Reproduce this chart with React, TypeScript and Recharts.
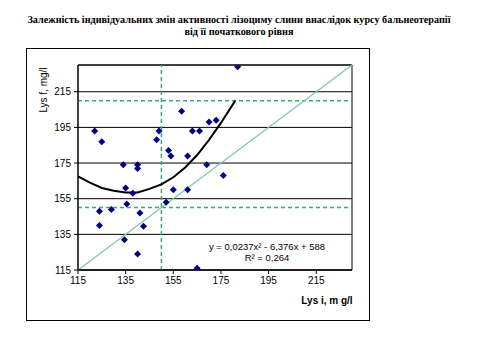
import {
    ComposedChart,
    Scatter,
    XAxis,
    YAxis,
    CartesianGrid,
    ReferenceLine,
    ReferenceArea,
} from "recharts";

// initial vs final lysozyme
const lysInitial = [
    122, 125, 134, 140, 140, 148, 149, 158.5, 153, 154, 161, 163, 166, 170, 173, 182,
    169, 176, 155, 161, 152, 165, 135, 138, 135.5, 124, 129, 141, 124, 142.5, 134.5, 140,
];
const lysFinal = [
    193, 187, 174, 174, 172, 188, 193, 204, 182, 179, 179, 193, 193, 198, 199, 229,
    174, 168, 160, 160, 153, 116, 161, 158, 152, 148, 149, 147, 140, 139.5, 132, 124,
];

// polynomial trend curve as drawn
const trendX = [115, 120, 125, 130, 135, 140, 145, 150, 155, 160, 165, 170, 175, 181];
const trendY = [167.5, 164, 161, 159.5, 158.5, 158.5, 160.5, 163, 167, 172.5, 179.5, 188, 197.5, 210];

const ticks = [115, 135, 155, 175, 195, 215];

const points = lysInitial.map((x, i) => ({ x, y: lysFinal[i] }));
const trend = trendX.map((x, i) => ({ x, y: trendY[i] }));

const Diamond = (props: any) => {
    const { cx, cy } = props;
    if (cx == null || cy == null) return null;
    const r = 3.5;
    return (
        <polygon
            points={`${cx},${cy - r} ${cx + r},${cy} ${cx},${cy + r} ${cx - r},${cy}`}
            fill="#000080"
        />
    );
};

const tickStyle = { fontSize: 10, fill: "#000", fontFamily: "Liberation Sans, Arial, sans-serif" };

export default function App() {
    return (
        <div style={{ position: "absolute", left: 0, top: 0, width: 480, height: 361, background: "#fff" }}>
            <div
                style={{
                    position: "absolute",
                    left: 0,
                    top: 14,
                    width: 478,
                    textAlign: "center",
                    fontFamily: "Liberation Serif, Times New Roman, serif",
                    fontWeight: "bold",
                    fontSize: 10.2,
                    lineHeight: "12px",
                    whiteSpace: "nowrap",
                }}
            >
                Залежність індивідуальних змін активності лізоциму слини внаслідок курсу бальнеотерапії
                <br />
                від її початкового рівня
            </div>
            <div
                style={{
                    position: "absolute",
                    left: 26,
                    top: 48,
                    width: 342,
                    height: 271,
                    border: "1px solid #000",
                }}
            />
            <div style={{ position: "absolute", left: 0, top: 0 }}>
                <ComposedChart
                    width={480}
                    height={361}
                    margin={{ top: 65, right: 128, bottom: 61, left: 0 }}
                >
                    <CartesianGrid horizontal vertical={false} stroke="#000" strokeWidth={1} />
                    <ReferenceArea x1={115} x2={230} y1={115} y2={230} fill="none" stroke="#000" strokeWidth={1} />
                    <XAxis
                        type="number"
                        dataKey="x"
                        domain={[115, 230]}
                        ticks={ticks}
                        allowDataOverflow
                        height={30}
                        tick={tickStyle}
                        tickSize={4}
                        tickMargin={3}
                        stroke="#000"
                    />
                    <YAxis
                        type="number"
                        dataKey="y"
                        domain={[115, 230]}
                        ticks={ticks}
                        allowDataOverflow
                        width={78}
                        tick={tickStyle}
                        tickSize={4}
                        tickMargin={3}
                        stroke="#000"
                    />
                    <ReferenceLine x={150} stroke="#3aa876" strokeWidth={1.5} strokeDasharray="4 3" />
                    <ReferenceLine y={210} stroke="#3aa876" strokeWidth={1.5} strokeDasharray="4 3" />
                    <ReferenceLine y={150} stroke="#3aa876" strokeWidth={1.5} strokeDasharray="4 3" />
                    <ReferenceLine
                        segment={[
                            { x: 115, y: 115 },
                            { x: 230, y: 230 },
                        ]}
                        stroke="#7cc9a2"
                        strokeWidth={1.2}
                    />
                    <Scatter
                        data={trend}
                        line={{ stroke: "#000", strokeWidth: 2 }}
                        lineType="joint"
                        shape={() => null}
                        isAnimationActive={false}
                    />
                    <Scatter data={points} shape={<Diamond />} isAnimationActive={false} />
                </ComposedChart>
            </div>
            <div
                style={{
                    position: "absolute",
                    left: 190,
                    top: 241,
                    width: 154,
                    textAlign: "center",
                    fontFamily: "Liberation Sans, Arial, sans-serif",
                    fontSize: 9.5,
                    lineHeight: "11px",
                }}
            >
                y = 0,0237x² - 6,376x + 588
                <br />
                R² = 0,264
            </div>
            <div
                style={{
                    position: "absolute",
                    left: 290,
                    top: 295,
                    width: 74,
                    textAlign: "center",
                    fontFamily: "Liberation Sans, Arial, sans-serif",
                    fontWeight: "bold",
                    fontSize: 10,
                    color: "#000",
                }}
            >
                Lys i, m g/l
            </div>
            <div
                style={{
                    position: "absolute",
                    left: 43,
                    top: 90,
                    transform: "translate(-50%, -50%) rotate(-90deg)",
                    whiteSpace: "nowrap",
                    fontFamily: "Liberation Sans, Arial, sans-serif",
                    fontSize: 10,
                    color: "#000",
                }}
            >
                Lys f, mg/l
            </div>
        </div>
    );
}
